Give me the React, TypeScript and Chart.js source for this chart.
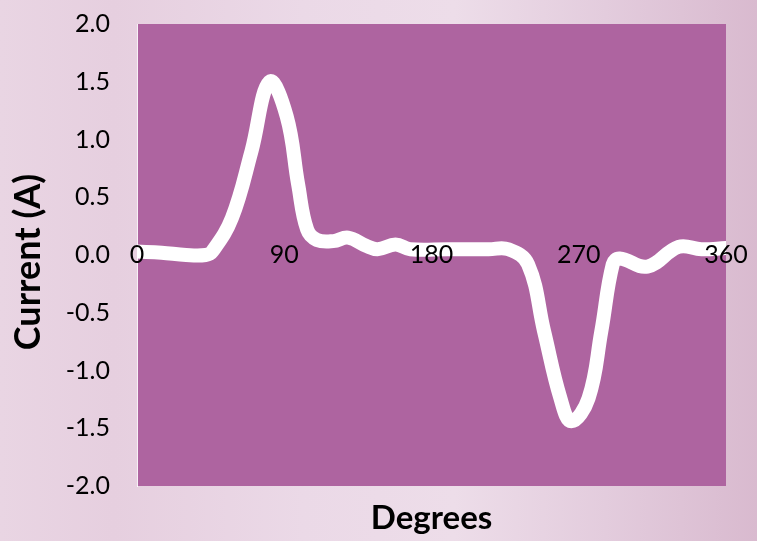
import React, { useEffect, useRef } from "react";
import { Chart, registerables } from "chart.js";

Chart.register(...registerables);

const degrees = [0, 15, 30, 42, 46, 58, 70, 81, 91.5, 98.5, 104, 110, 120, 129, 140, 147, 158, 167, 190, 215, 227, 239, 248.8, 258.8, 265.5, 276, 283.8, 290.8, 295, 312, 331, 345, 360];
const current = [0.03, 0.02, 0.0, 0.0, 0.03, 0.32, 0.9, 1.5, 1.2, 0.61, 0.22, 0.13, 0.12, 0.15, 0.08, 0.05, 0.09, 0.05, 0.05, 0.05, 0.05, -0.08, -0.66, -1.24, -1.44, -1.24, -0.66, -0.08, -0.03, -0.1, 0.07, 0.05, 0.06];
const xTicks = [0, 90, 180, 270, 360];
const yTicks = [-2, -1.5, -1, -0.5, 0, 0.5, 1, 1.5, 2];
const xTitle = "Degrees";
const yTitle = "Current (A)";

const PLOT_BG = "#AE64A0";
const FONT = "Lato, 'Open Sans', sans-serif";

const plotBg = {
  id: "plotBg",
  beforeDraw(chart: any) {
    const { ctx, chartArea } = chart;
    ctx.save();
    ctx.fillStyle = PLOT_BG;
    ctx.fillRect(chartArea.left, chartArea.top, chartArea.right - chartArea.left, chartArea.bottom - chartArea.top);
    ctx.restore();
  },
  afterDraw(chart: any) {
    const { ctx, chartArea } = chart;
    ctx.save();
    ctx.fillStyle = "#000";
    ctx.font = `bold 33px ${FONT}`;
    ctx.textAlign = "center";
    ctx.textBaseline = "middle";
    ctx.fillText(xTitle, (chartArea.left + chartArea.right) / 2, 518);
    ctx.translate(28, 262);
    ctx.rotate(-Math.PI / 2);
    ctx.font = `bold 36px ${FONT}`;
    ctx.fillText(yTitle, 0, 0);
    ctx.restore();
  },
};

export default function App() {
  const ref = useRef<HTMLCanvasElement | null>(null);
  useEffect(() => {
    document.body.style.margin = "0";
    const chart = new Chart(ref.current as HTMLCanvasElement, {
      type: "line",
      data: {
        datasets: [
          {
            data: degrees.map((d, i) => ({ x: d, y: current[i] })),
            borderColor: "#FFFFFF",
            borderWidth: 14,
            pointRadius: 0,
            tension: 0.4,
            borderCapStyle: "round",
            borderJoinStyle: "round",
            clip: 0,
            fill: false,
          } as any,
        ],
      },
      options: {
        animation: false,
        responsive: true,
        maintainAspectRatio: false,
        layout: { padding: { left: 0, right: 31, top: 24, bottom: 55 } },
        plugins: { legend: { display: false }, tooltip: { enabled: false }, title: { display: false } },
        scales: {
          x: {
            type: "linear",
            min: 0,
            max: 360,
            position: { y: 0 } as any,
            afterBuildTicks: (s: any) => {
              s.ticks = xTicks.map((v) => ({ value: v }));
            },
            ticks: {
              color: "#000",
              font: { family: FONT, size: 25 },
              padding: -15,
              maxRotation: 0,
              autoSkip: false,
              z: 1,
            } as any,
            grid: { display: false, drawTicks: false },
            border: { display: false },
          },
          y: {
            min: -2,
            max: 2,
            afterBuildTicks: (s: any) => {
              s.ticks = yTicks.map((v) => ({ value: v }));
            },
            afterFit: (s: any) => {
              s.width = 137;
            },
            ticks: {
              color: "#000",
              font: { family: FONT, size: 25 },
              padding: 0,
              callback: (v: any) => Number(v).toFixed(1),
            },
            grid: {
              display: true,
              drawOnChartArea: false,
              drawTicks: true,
              tickLength: 27,
              color: "rgba(0,0,0,0)",
            },
            border: { display: true, color: "rgba(255,255,255,0.9)", width: 1 },
          },
        },
      },
      plugins: [plotBg],
    });
    return () => chart.destroy();
  }, []);

  return (
    <div
      style={{
        position: "fixed",
        left: 0,
        top: 0,
        width: 757,
        height: 541,
        background:
          "linear-gradient(90deg, #E9D5E3 0%, #E6CFDF 15%, #EBD9E7 40%, #EDDDE9 60%, #E3CCDD 80%, #D9BACF 100%)",
      }}
    >
      <canvas ref={ref} />
    </div>
  );
}
